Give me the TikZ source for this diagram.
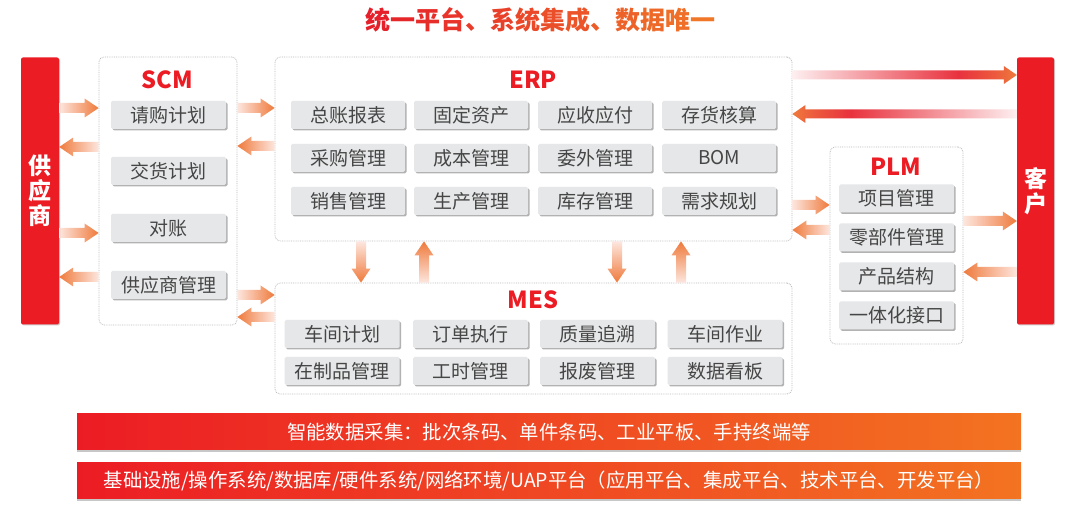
\documentclass[tikz,border=0pt]{standalone}
\usepackage{fontspec}
\setmainfont{Noto Sans CJK SC}
\usetikzlibrary{shadows,calc}
\definecolor{cred}{RGB}{236,28,36}
\definecolor{corg}{RGB}{243,115,33}
\definecolor{arrc}{RGB}{239,122,60}
\definecolor{tailc}{RGB}{253,230,222}
\definecolor{lred}{RGB}{232,50,62}
\definecolor{itemf}{RGB}{230,231,232}
\definecolor{itemt}{RGB}{70,70,70}
\definecolor{bordc}{RGB}{185,185,185}
\definecolor{tred}{RGB}{229,32,42}
\definecolor{torg}{RGB}{240,118,40}
\colorlet{ltail}{white!92!lred}
\colorlet{midro}{lred!45!arrc}
\pgfdeclarehorizontalshading{longR}{100bp}{color(0bp)=(ltail); color(25bp)=(ltail); color(62bp)=(lred); color(70bp)=(midro); color(75bp)=(arrc); color(100bp)=(arrc)}
\pgfdeclarehorizontalshading{longL}{100bp}{color(0bp)=(arrc); color(25bp)=(arrc); color(30bp)=(midro); color(38bp)=(lred); color(75bp)=(ltail); color(100bp)=(ltail)}
\newcommand\tc[2]{\textcolor{tred!#1!torg}{#2}}
\newcommand\arrR[2]{\shade[left color=tailc, right color=arrc] let \p1=(#1), \p2=(#2) in (\x1,\y1+5pt) -- (\x2-14pt,\y1+5pt) -- (\x2-14pt,\y1+9.5pt) -- (\x2,\y1) -- (\x2-14pt,\y1-9.5pt) -- (\x2-14pt,\y1-5pt) -- (\x1,\y1-5pt) -- cycle;}
\newcommand\arrL[2]{\shade[right color=tailc, left color=arrc] let \p1=(#1), \p2=(#2) in (\x1,\y1+5pt) -- (\x2+14pt,\y1+5pt) -- (\x2+14pt,\y1+9.5pt) -- (\x2,\y1) -- (\x2+14pt,\y1-9.5pt) -- (\x2+14pt,\y1-5pt) -- (\x1,\y1-5pt) -- cycle;}
\newcommand\arrD[2]{\shade[top color=tailc, bottom color=arrc] let \p1=(#1), \p2=(#2) in (\x1+5pt,\y1) -- (\x1+5pt,\y2+14pt) -- (\x1+9.5pt,\y2+14pt) -- (\x1,\y2) -- (\x1-9.5pt,\y2+14pt) -- (\x1-5pt,\y2+14pt) -- (\x1-5pt,\y1) -- cycle;}
\newcommand\arrU[2]{\shade[bottom color=tailc, top color=arrc] let \p1=(#1), \p2=(#2) in (\x1+5pt,\y1) -- (\x1+5pt,\y2-14pt) -- (\x1+9.5pt,\y2-14pt) -- (\x1,\y2) -- (\x1-9.5pt,\y2-14pt) -- (\x1-5pt,\y2-14pt) -- (\x1-5pt,\y1) -- cycle;}
\newcommand\arrLR[2]{\shade[shading=longR] let \p1=(#1), \p2=(#2) in (\x1,\y1+4.5pt) -- (\x2-13pt,\y1+4.5pt) -- (\x2-13pt,\y1+9pt) -- (\x2,\y1) -- (\x2-13pt,\y1-9pt) -- (\x2-13pt,\y1-4.5pt) -- (\x1,\y1-4.5pt) -- cycle;}
\newcommand\arrLL[2]{\shade[shading=longL] let \p1=(#1), \p2=(#2) in (\x1,\y1+4.5pt) -- (\x2+13pt,\y1+4.5pt) -- (\x2+13pt,\y1+9pt) -- (\x2,\y1) -- (\x2+13pt,\y1-9pt) -- (\x2+13pt,\y1-4.5pt) -- (\x1,\y1-4.5pt) -- cycle;}
\tikzset{
  item/.style={fill=itemf, rounded corners=1.5pt, minimum height=28pt, inner sep=0pt, text=itemt,
    font=\fontsize{19}{21}\selectfont,
    drop shadow={shadow xshift=1.5pt, shadow yshift=-1.5pt, fill=black, opacity=0.3}},
  container/.style={draw=bordc, densely dotted, line width=0.8pt, fill=white, rounded corners=5pt, inner sep=0pt},
  redbar/.style={fill=cred, rounded corners=2pt, inner sep=0pt, text=white, align=center,
    font=\fontsize{23}{25}\selectfont\bfseries,
    drop shadow={shadow xshift=1pt, shadow yshift=-1pt, fill=black, opacity=0.2}},
  syslabel/.style={text=cred, font=\fontsize{23.5}{26}\selectfont\bfseries, inner sep=0pt},
  bottombar/.style={left color=cred, right color=corg, minimum width=944pt, minimum height=36pt, inner sep=0pt,
    text=white, font=\fontsize{19.4}{21}\selectfont,
    drop shadow={shadow xshift=0pt, shadow yshift=-2pt, fill=black, opacity=0.22}}
}
\begin{document}
\begin{tikzpicture}[x=1pt,y=-1pt]
\useasboundingbox (0,0) rectangle (1080,526);
\fill[white] (0,0) rectangle (1080,526);

\node[font=\fontsize{25}{28}\selectfont\bfseries, inner sep=0pt] (title) at (540,20) {\tc{100}{统}\tc{92}{一}\tc{85}{平}\tc{77}{台}\tc{69}{、}\tc{62}{系}\tc{54}{统}\tc{46}{集}\tc{38}{成}\tc{31}{、}\tc{23}{数}\tc{15}{据}\tc{8}{唯}\tc{0}{一}};

% side bars
\node[redbar, minimum width=38pt, minimum height=267pt] (sup) at (40,191) {供\\应\\商};
\node[redbar, minimum width=37pt, minimum height=267pt] (cust) at (1035.5,191) {客\\户};

% containers
\node[container, minimum width=138pt, minimum height=268pt] (scm) at (168,191) {};
\node[container, minimum width=517pt, minimum height=184pt] (erp) at (533.5,149) {};
\node[container, minimum width=517pt, minimum height=111pt] (mes) at (533.5,338.5) {};
\node[container, minimum width=133pt, minimum height=197pt] (plm) at (896.5,245.5) {};

\node[syslabel] (scmlab) at (167,80) {SCM};
\node[syslabel] (erplab) at (533,80) {ERP};
\node[syslabel] (meslab) at (533,300) {MES};
\node[syslabel] (plmlab) at (896,167) {PLM};

% SCM items
\node[item, minimum width=115pt] (s1) at (168.5,115) {请购计划};
\node[item, minimum width=115pt] (s2) at (168.5,171) {交货计划};
\node[item, minimum width=115pt] (s3) at (168.5,228) {对账};
\node[item, minimum width=115pt] (s4) at (168.5,285) {供应商管理};

% ERP items
\node[item, minimum width=114pt] (e11) at (348,115) {总账报表};
\node[item, minimum width=114pt] (e12) at (471,115) {固定资产};
\node[item, minimum width=114pt] (e13) at (595,115) {应收应付};
\node[item, minimum width=114pt] (e14) at (719,115) {存货核算};
\node[item, minimum width=114pt] (e21) at (348,158) {采购管理};
\node[item, minimum width=114pt] (e22) at (471,158) {成本管理};
\node[item, minimum width=114pt] (e23) at (595,158) {委外管理};
\node[item, minimum width=114pt] (e24) at (719,158) {BOM};
\node[item, minimum width=114pt] (e31) at (348,201) {销售管理};
\node[item, minimum width=114pt] (e32) at (471,201) {生产管理};
\node[item, minimum width=114pt] (e33) at (595,201) {库存管理};
\node[item, minimum width=114pt] (e34) at (719,201) {需求规划};

% MES items
\node[item, minimum width=115pt] (m11) at (342,334) {车间计划};
\node[item, minimum width=115pt] (m12) at (470.5,334) {订单执行};
\node[item, minimum width=115pt] (m13) at (597.5,334) {质量追溯};
\node[item, minimum width=115pt] (m14) at (725,334) {车间作业};
\node[item, minimum width=115pt] (m21) at (342,371) {在制品管理};
\node[item, minimum width=115pt] (m22) at (470.5,371) {工时管理};
\node[item, minimum width=115pt] (m23) at (597.5,371) {报废管理};
\node[item, minimum width=115pt] (m24) at (725,371) {数据看板};

% PLM items
\node[item, minimum width=115pt] (p1) at (896.5,198.5) {项目管理};
\node[item, minimum width=115pt] (p2) at (896.5,237.5) {零部件管理};
\node[item, minimum width=115pt] (p3) at (896.5,276.5) {产品结构};
\node[item, minimum width=115pt] (p4) at (896.5,315.5) {一体化接口};

% bottom bars
\node[bottombar] (bar1) at (549,432) {智能数据采集：批次条码、单件条码、工业平板、手持终端等};
\node[bottombar] (bar2) at (549,481) {基础设施/操作系统/数据库/硬件系统/网络环境/UAP平台（应用平台、集成平台、技术平台、开发平台）};

% arrows supplier <-> SCM
\arrR{sup.east |- 0,108}{scm.west |- 0,108}
\arrL{scm.west |- 0,147}{sup.east |- 0,147}
\arrR{sup.east |- 0,233}{scm.west |- 0,233}
\arrL{scm.west |- 0,277}{sup.east |- 0,277}
% SCM <-> ERP
\arrR{scm.east |- 0,108}{erp.west |- 0,108}
\arrL{erp.west |- 0,146}{scm.east |- 0,146}
% SCM <-> MES
\arrR{scm.east |- 0,295}{mes.west |- 0,295}
\arrL{mes.west |- 0,317}{scm.east |- 0,317}
% ERP <-> MES
\arrD{erp.south -| 361,0}{mes.north -| 361,0}
\arrU{mes.north -| 424,0}{erp.south -| 424,0}
\arrD{erp.south -| 617,0}{mes.north -| 617,0}
\arrU{mes.north -| 681,0}{erp.south -| 681,0}
% ERP <-> PLM
\arrR{erp.east |- 0,205}{plm.west |- 0,205}
\arrL{plm.west |- 0,230}{erp.east |- 0,230}
% ERP <-> customer
\arrLR{erp.east |- 0,75}{cust.west |- 0,75}
\arrLL{cust.west |- 0,114}{erp.east |- 0,114}
% PLM <-> customer
\arrR{plm.east |- 0,221}{cust.west |- 0,221}
\arrL{cust.west |- 0,272}{plm.east |- 0,272}
\end{tikzpicture}
\end{document}
